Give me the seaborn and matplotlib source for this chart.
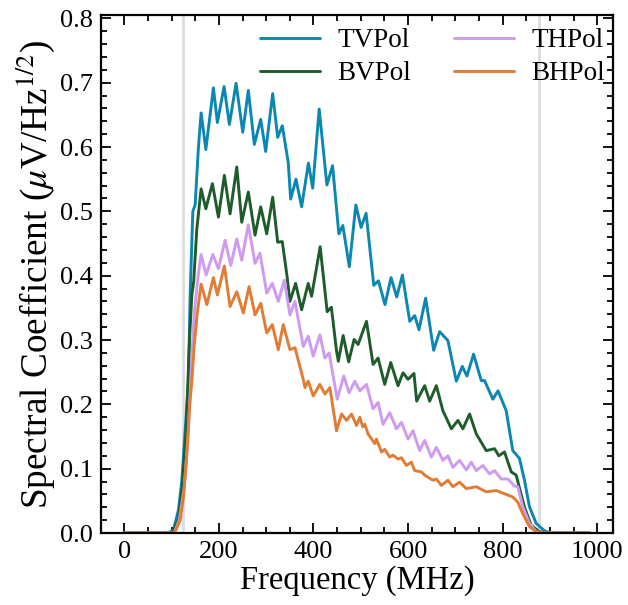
import numpy as np
import pandas as pd
import matplotlib
matplotlib.use("Agg")
import matplotlib.pyplot as plt
from matplotlib.ticker import MultipleLocator
import seaborn as sns

series_names = ["TVPol", "BVPol", "THPol", "BHPol"]
series_colors = ["#0b87b1", "#1f5c2c", "#cf9af0", "#e07c33"]
band_edges = [125, 877]

tv_freq = [0, 92.8, 104.0, 114.6, 121.7, 128.7, 135.7, 139.2, 144.9, 149.8, 156.8, 162.4, 172.4, 188.4, 196.8,
           211.0, 222.2, 236.3, 250.4, 262.2, 274.9, 288.4, 298.9, 313.7, 324.3, 334.0, 346.6, 351.7, 362.9,
           374.9, 389.2, 398.3, 412.0, 428.3, 440.3, 453.6, 462.0, 475.7, 489.5, 500.6, 511.2, 527.4, 537.3,
           551.1, 563.9, 575.9, 588.0, 603.4, 613.9, 623.0, 637.1, 654.0, 666.7, 684.2, 701.9, 714.6, 724.3,
           738.4, 754.6, 761.6, 779.1, 790.1, 807.4, 821.3, 835.4, 846.0, 856.5, 870.7, 889.0, 903.0, 984.0]
tv_vals = [0, 0, 0.005, 0.036, 0.082, 0.159, 0.236, 0.37, 0.50, 0.51, 0.60, 0.653, 0.596, 0.692, 0.638,
           0.694, 0.635, 0.699, 0.623, 0.688, 0.604, 0.643, 0.593, 0.683, 0.615, 0.633, 0.576, 0.519, 0.550,
           0.507, 0.575, 0.536, 0.659, 0.541, 0.571, 0.465, 0.478, 0.414, 0.510, 0.475, 0.497, 0.385, 0.392,
           0.355, 0.397, 0.367, 0.401, 0.329, 0.338, 0.316, 0.365, 0.284, 0.313, 0.299, 0.236, 0.259, 0.244,
           0.278, 0.237, 0.237, 0.208, 0.221, 0.190, 0.128, 0.116, 0.082, 0.041, 0.015, 0.003, 0, 0]

bv_freq = [0, 101, 114, 122.4, 130.8, 137.8, 142.8, 146.6, 153.4, 162.4, 172.4, 186.3, 199.0, 211.6, 223.6,
           237.8, 248.3, 262.2, 276.4, 288.4, 301.1, 313.7, 324.3, 334.0, 343.9, 350.2, 362.2, 374.9, 388.8,
           396.0, 414.1, 428.9, 437.8, 448.7, 452.5, 462.7, 474.3, 485.9, 494.3, 512.0, 526.0, 536.5, 550.6,
           563.3, 578.7, 589.2, 599.8, 612.4, 618.1, 635.0, 645.6, 659.7, 673.6, 691.4, 705.3, 715.8, 730.0,
           744.1, 765.2, 782.7, 791.8, 803.8, 818.0, 828.5, 835.4, 846.0, 860.1, 877.6, 894.5, 984.0]
bv_vals = [0, 0, 0.02, 0.07, 0.16, 0.30, 0.37, 0.39, 0.473, 0.535, 0.504, 0.543, 0.491, 0.556, 0.496,
           0.569, 0.483, 0.530, 0.463, 0.507, 0.465, 0.522, 0.452, 0.453, 0.40, 0.360, 0.388, 0.347, 0.388,
           0.368, 0.445, 0.344, 0.351, 0.283, 0.267, 0.307, 0.266, 0.301, 0.293, 0.329, 0.262, 0.272, 0.231,
           0.265, 0.229, 0.249, 0.239, 0.248, 0.205, 0.229, 0.205, 0.229, 0.190, 0.162, 0.175, 0.162, 0.185,
           0.154, 0.128, 0.131, 0.120, 0.126, 0.095, 0.090, 0.070, 0.040, 0.012, 0.002, 0, 0]

th_freq = [0, 105.5, 116, 126.6, 135, 141.4, 147.7, 156.1, 162.4, 173.0, 187.1, 199.0, 213.1, 225.1, 237.8,
           248.3, 262.2, 276.4, 286.9, 301.1, 312.9, 325.5, 338.2, 350.2, 360.8, 378.3, 388.8, 399.4, 413.5,
           424.1, 433.1, 450.0, 464.1, 475.3, 487.3, 497.9, 512.0, 526.0, 536.5, 547.0, 561.2, 575.3, 585.9,
           599.8, 610.3, 624.5, 635.0, 649.2, 659.7, 673.6, 684.2, 694.7, 708.9, 723.0, 733.5, 744.1, 758.0,
           772.2, 782.7, 796.8, 810.8, 824.9, 831.9, 842.4, 856.5, 870.7, 888.0, 984.0]
th_vals = [0, 0, 0.02, 0.07, 0.15, 0.25, 0.34, 0.40, 0.433, 0.401, 0.433, 0.411, 0.455, 0.416, 0.457,
           0.424, 0.479, 0.419, 0.435, 0.373, 0.388, 0.360, 0.393, 0.339, 0.360, 0.290, 0.306, 0.275, 0.308,
           0.272, 0.280, 0.208, 0.244, 0.218, 0.236, 0.221, 0.231, 0.193, 0.203, 0.169, 0.187, 0.162, 0.172,
           0.146, 0.159, 0.128, 0.144, 0.118, 0.133, 0.113, 0.120, 0.102, 0.113, 0.098, 0.110, 0.097, 0.105,
           0.092, 0.097, 0.084, 0.084, 0.073, 0.072, 0.041, 0.015, 0.002, 0, 0]

bh_freq = [0, 101, 107.4, 118.1, 125.1, 130.8, 137.8, 142.8, 147.7, 154.0, 162.4, 174.5, 188.4, 196.8, 211.6,
           223.6, 237.8, 251.7, 263.7, 276.4, 288.4, 301.1, 312.9, 325.5, 336.1, 350.2, 360.8, 377.6, 381.9,
           388.8, 399.4, 413.5, 424.1, 434.6, 448.7, 459.3, 469.8, 480.4, 490.9, 497.9, 504.2, 508.4, 515.4,
           529.5, 533.1, 543.7, 550.6, 561.2, 568.1, 578.7, 585.9, 596.4, 606.9, 613.9, 628.1, 635.0, 652.5,
           659.7, 670.3, 684.2, 694.7, 708.9, 723.0, 744.1, 765.2, 786.3, 803.8, 821.3, 831.9, 842.4, 856.5,
           870.7, 888.0, 984.0]
bh_vals = [0, 0, 0.002, 0.02, 0.056, 0.108, 0.195, 0.236, 0.29, 0.34, 0.387, 0.355, 0.397, 0.370, 0.415,
           0.352, 0.375, 0.342, 0.383, 0.339, 0.357, 0.311, 0.324, 0.285, 0.324, 0.285, 0.288, 0.241, 0.226,
           0.236, 0.213, 0.231, 0.216, 0.226, 0.159, 0.185, 0.175, 0.185, 0.167, 0.180, 0.165, 0.169, 0.154,
           0.139, 0.146, 0.126, 0.130, 0.118, 0.121, 0.115, 0.117, 0.105, 0.110, 0.097, 0.095, 0.090, 0.082,
           0.084, 0.074, 0.082, 0.072, 0.079, 0.069, 0.072, 0.064, 0.066, 0.061, 0.056, 0.048, 0.030, 0.010,
           0.002, 0, 0]

frames = []
for name, f, v in zip(series_names, [tv_freq, bv_freq, th_freq, bh_freq], [tv_vals, bv_vals, th_vals, bh_vals]):
    frames.append(pd.DataFrame({"freq": f, "val": v, "series": name}))
df = pd.concat(frames, ignore_index=True)

sns.set_theme(style="ticks")
plt.rcParams["font.family"] = ["Liberation Serif", "DejaVu Serif"]
plt.rcParams["mathtext.fontset"] = "stix"
plt.rcParams["text.color"] = "black"
plt.rcParams["axes.labelcolor"] = "black"
plt.rcParams["xtick.labelcolor"] = "black"
plt.rcParams["ytick.labelcolor"] = "black"

fig = plt.figure(figsize=(6.28, 6.05), dpi=100)
ax = fig.add_axes([0.161, 0.119, 0.815, 0.856])

for xe in band_edges:
    ax.axvline(xe, color="#dddddd", lw=2, zorder=0)

sns.lineplot(data=df, x="freq", y="val", hue="series", hue_order=series_names,
             palette=series_colors, estimator=None, sort=False, lw=2.1, ax=ax)

ax.set_xlim(-49, 1033)
ax.set_ylim(0, 0.805)
ax.xaxis.set_major_locator(MultipleLocator(200))
ax.xaxis.set_minor_locator(MultipleLocator(50))
ax.yaxis.set_major_locator(MultipleLocator(0.1))
ax.yaxis.set_minor_locator(MultipleLocator(0.02))
ax.yaxis.set_major_formatter(matplotlib.ticker.FormatStrFormatter("%.1f"))
ax.tick_params(which="both", direction="in", top=True, right=True, colors="black",
               labelcolor="black", width=1.3)
ax.tick_params(which="major", length=7, labelsize=19, pad=6)
ax.tick_params(which="minor", length=4)
for s in ax.spines.values():
    s.set_linewidth(1.6)
    s.set_color("black")

ax.set_xlabel("Frequency (MHz)", fontsize=23.5, labelpad=1, color="black")
ax.set_ylabel("Spectral Coefficient ($\\mu$V/Hz$^{1/2}$)", fontsize=26.8, labelpad=2, color="black")

leg = ax.legend(ncol=2, frameon=False, loc="upper right", bbox_to_anchor=(0.998, 0.988),
                fontsize=19.5, handlelength=2.2, handletextpad=0.65, columnspacing=1.6,
                borderaxespad=0.0, borderpad=0.25, labelspacing=0.3)
for t in leg.get_texts():
    t.set_color("black")

fig.savefig("out.png", dpi=100)
